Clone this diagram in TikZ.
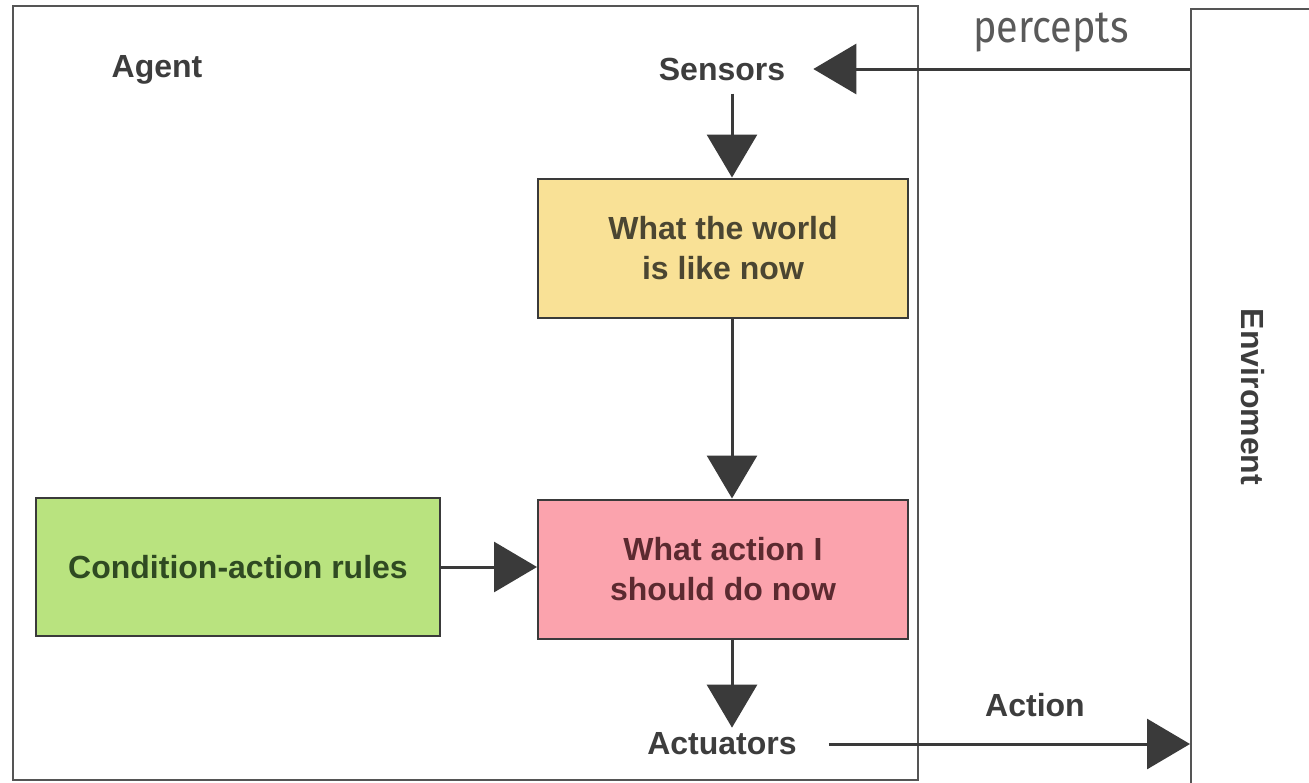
\documentclass[tikz,border=0pt]{standalone}
\usepackage{fontspec}
\setmainfont{Liberation Sans}
\newfontfamily\percfont{Fira Sans}
\usetikzlibrary{arrows.meta}
\definecolor{linegray}{HTML}{3A3A3A}
\definecolor{framegray}{HTML}{555555}
\definecolor{txtgray}{HTML}{3D3D3D}
\definecolor{yellowfill}{HTML}{F9E196}
\definecolor{pinkfill}{HTML}{FBA3AD}
\definecolor{greenfill}{HTML}{B9E37F}
\definecolor{yellowtxt}{HTML}{4B4632}
\definecolor{pinktxt}{HTML}{5B2A30}
\definecolor{greentxt}{HTML}{2F4A22}
\tikzset{
  lbl/.style={font=\bfseries\fontsize{32}{40}\selectfont, text=txtgray, inner xsep=0pt, inner ysep=0pt},
  box/.style={draw=linegray, line width=2pt, minimum width=370pt, minimum height=139pt, align=center,
     font=\bfseries\fontsize{32}{40}\selectfont, inner sep=0pt},
  frame/.style={draw=framegray, line width=2pt},
  conn/.style={draw=linegray, line width=3pt, -{Triangle[length=43pt,width=50pt]}}
}
\begin{document}
\begin{tikzpicture}[x=1pt,y=-1pt]
\useasboundingbox (0,0) rectangle (1309,782);
\clip (0,0) rectangle (1309,782);
\fill[white] (0,0) rectangle (1309,782);
% frames
\draw[frame] (13,6) rectangle (918,780);
\node[frame, anchor=north west, minimum width=200pt, minimum height=800pt, inner sep=0pt] (env) at (1190,8) {};
% labels
\node[lbl] (agent) at (157,70) {Agent};
\node[lbl, inner xsep=28pt, inner ysep=13pt] (sensors) at (722,69) {Sensors};
\node[lbl, inner xsep=32pt, inner ysep=5pt] (actuators) at (722,744) {Actuators};
\node[lbl] (actionlbl) at (1035,705) {Action};
\node[lbl, rotate=-90] (envlbl) at (1253,397) {Enviroment};
\node[font=\percfont\fontsize{45}{48}\selectfont, text=txtgray!85, inner sep=0pt, xscale=0.88] (percepts) at (1051,33) {percepts};
% boxes
\node[box, fill=yellowfill, text=yellowtxt] (world) at (723,248) {What the world\\is like now};
\node[box, fill=pinkfill, text=pinktxt] (action) at (723,569) {What action I\\should do now};
\node[box, fill=greenfill, text=greentxt, minimum width=404pt, minimum height=138pt] (rules) at (238,567) {Condition-action rules};
% arrow column
\coordinate (col) at (732,0);
\draw[conn] (env.west |- sensors.east) -- (sensors.east);
\draw[conn] (col |- sensors.south) -- (col |- world.north);
\draw[conn] (col |- world.south) -- (col |- action.north);
\draw[conn] (rules.east) -- (rules.east -| action.west);
\draw[conn] (col |- action.south) -- (col |- actuators.north);
\draw[conn] (actuators.east) -- (actuators.east -| env.west);
\end{tikzpicture}
\end{document}
